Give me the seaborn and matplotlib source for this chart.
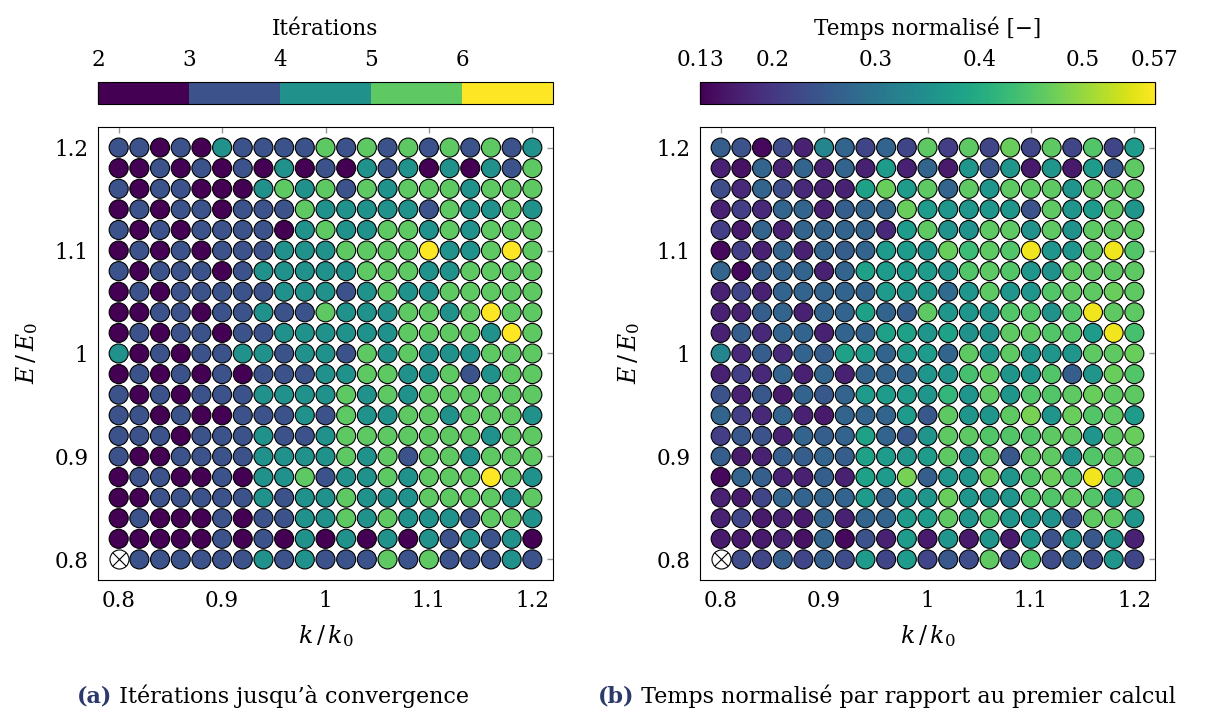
import numpy as np
import pandas as pd
import matplotlib
import matplotlib.pyplot as plt
from matplotlib.colors import ListedColormap, BoundaryNorm, Normalize
from matplotlib.cm import ScalarMappable
import seaborn as sns

# grid axes (k/k0 columns, E/E0 rows listed top to bottom)
k_values = [0.80, 0.82, 0.84, 0.86, 0.88, 0.90, 0.92, 0.94, 0.96, 0.98, 1.00,
            1.02, 1.04, 1.06, 1.08, 1.10, 1.12, 1.14, 1.16, 1.18, 1.20]
e_values = [1.20, 1.18, 1.16, 1.14, 1.12, 1.10, 1.08, 1.06, 1.04, 1.02, 1.00,
            0.98, 0.96, 0.94, 0.92, 0.90, 0.88, 0.86, 0.84, 0.82, 0.80]

# iterations until convergence, one list per E/E0 row
iterations = [
    [3, 3, 2, 3, 2, 4, 3, 3, 3, 3, 5, 3, 5, 3, 5, 3, 5, 3, 5, 3, 4],
    [2, 2, 3, 2, 3, 2, 3, 2, 4, 2, 3, 2, 4, 3, 4, 2, 4, 2, 4, 3, 5],
    [3, 2, 3, 3, 2, 2, 2, 4, 5, 4, 5, 3, 5, 4, 5, 5, 5, 4, 5, 5, 5],
    [2, 3, 2, 3, 3, 2, 3, 3, 3, 5, 4, 4, 4, 4, 4, 3, 5, 4, 4, 5, 4],
    [3, 2, 3, 2, 3, 3, 3, 3, 2, 4, 5, 4, 4, 5, 5, 4, 5, 4, 5, 5, 5],
    [2, 3, 2, 3, 2, 3, 3, 3, 4, 4, 4, 5, 5, 5, 5, 6, 4, 4, 5, 6, 5],
    [3, 2, 3, 3, 3, 2, 3, 4, 4, 4, 4, 4, 5, 5, 5, 4, 4, 5, 5, 5, 5],
    [2, 3, 2, 3, 3, 3, 3, 3, 4, 4, 4, 3, 4, 5, 4, 4, 5, 5, 5, 5, 5],
    [2, 2, 3, 3, 2, 3, 3, 4, 3, 3, 5, 4, 4, 4, 5, 5, 4, 5, 6, 5, 5],
    [2, 3, 2, 3, 3, 2, 3, 3, 4, 4, 4, 4, 4, 4, 5, 5, 5, 5, 4, 6, 5],
    [4, 2, 3, 2, 3, 3, 4, 4, 3, 4, 4, 3, 5, 4, 5, 4, 4, 4, 5, 5, 5],
    [2, 3, 2, 3, 2, 3, 2, 3, 3, 3, 4, 4, 5, 5, 4, 4, 5, 3, 4, 5, 5],
    [3, 2, 3, 2, 3, 3, 3, 4, 4, 4, 4, 5, 4, 5, 4, 5, 5, 5, 5, 5, 5],
    [3, 3, 2, 3, 2, 2, 3, 3, 3, 4, 3, 5, 4, 4, 5, 5, 4, 5, 5, 5, 4],
    [3, 3, 3, 2, 3, 3, 3, 4, 3, 3, 4, 5, 5, 5, 5, 5, 5, 5, 4, 5, 5],
    [3, 2, 2, 3, 3, 3, 3, 4, 4, 4, 4, 5, 4, 5, 3, 5, 5, 4, 5, 5, 5],
    [2, 3, 3, 2, 2, 3, 2, 4, 4, 5, 3, 4, 4, 5, 4, 5, 5, 5, 6, 5, 4],
    [2, 2, 3, 3, 3, 3, 3, 4, 3, 4, 4, 5, 4, 4, 4, 5, 5, 5, 5, 4, 5],
    [2, 3, 2, 2, 2, 3, 2, 3, 3, 4, 4, 5, 4, 5, 4, 4, 4, 3, 5, 5, 4],
    [2, 2, 2, 2, 2, 3, 2, 3, 2, 4, 2, 4, 2, 4, 2, 4, 3, 4, 3, 4, 2],
    [None, 3, 3, 3, 3, 3, 3, 4, 3, 4, 3, 3, 3, 5, 3, 5, 3, 3, 3, 4, 3],
]

# time normalised by the first computation, one list per E/E0 row
norm_time = [
    [0.26, 0.24, 0.14, 0.23, 0.17, 0.33, 0.27, 0.22, 0.27, 0.22, 0.46, 0.21, 0.46, 0.22, 0.47, 0.22, 0.46, 0.22, 0.45, 0.22, 0.37],
    [0.17, 0.15, 0.27, 0.17, 0.27, 0.17, 0.27, 0.17, 0.37, 0.17, 0.27, 0.16, 0.36, 0.24, 0.36, 0.16, 0.36, 0.16, 0.37, 0.25, 0.46],
    [0.23, 0.18, 0.27, 0.23, 0.18, 0.17, 0.17, 0.38, 0.47, 0.37, 0.46, 0.27, 0.46, 0.36, 0.46, 0.46, 0.46, 0.36, 0.46, 0.46, 0.46],
    [0.17, 0.21, 0.18, 0.27, 0.27, 0.17, 0.26, 0.27, 0.27, 0.47, 0.37, 0.36, 0.36, 0.36, 0.36, 0.24, 0.46, 0.36, 0.37, 0.46, 0.36],
    [0.21, 0.16, 0.27, 0.17, 0.27, 0.27, 0.27, 0.27, 0.18, 0.37, 0.46, 0.35, 0.35, 0.46, 0.46, 0.35, 0.46, 0.35, 0.46, 0.46, 0.46],
    [0.14, 0.21, 0.17, 0.27, 0.17, 0.27, 0.26, 0.27, 0.37, 0.37, 0.36, 0.47, 0.43, 0.46, 0.45, 0.56, 0.36, 0.36, 0.46, 0.56, 0.45],
    [0.27, 0.14, 0.26, 0.27, 0.27, 0.17, 0.27, 0.38, 0.37, 0.37, 0.37, 0.36, 0.45, 0.46, 0.45, 0.36, 0.35, 0.46, 0.46, 0.46, 0.46],
    [0.17, 0.22, 0.17, 0.27, 0.27, 0.27, 0.27, 0.27, 0.37, 0.36, 0.36, 0.28, 0.36, 0.46, 0.36, 0.36, 0.45, 0.46, 0.46, 0.47, 0.46],
    [0.17, 0.17, 0.26, 0.27, 0.17, 0.27, 0.27, 0.38, 0.27, 0.26, 0.46, 0.36, 0.36, 0.36, 0.45, 0.45, 0.35, 0.45, 0.56, 0.46, 0.46],
    [0.17, 0.26, 0.18, 0.27, 0.27, 0.17, 0.27, 0.27, 0.38, 0.38, 0.36, 0.38, 0.35, 0.35, 0.46, 0.46, 0.45, 0.45, 0.37, 0.56, 0.44],
    [0.33, 0.18, 0.26, 0.18, 0.27, 0.26, 0.38, 0.37, 0.27, 0.37, 0.37, 0.27, 0.46, 0.36, 0.46, 0.36, 0.36, 0.36, 0.46, 0.46, 0.47],
    [0.17, 0.21, 0.18, 0.27, 0.17, 0.27, 0.17, 0.27, 0.27, 0.27, 0.36, 0.36, 0.44, 0.46, 0.36, 0.36, 0.45, 0.26, 0.36, 0.47, 0.45],
    [0.24, 0.17, 0.25, 0.16, 0.27, 0.25, 0.27, 0.37, 0.37, 0.37, 0.36, 0.42, 0.36, 0.46, 0.36, 0.45, 0.45, 0.46, 0.47, 0.46, 0.46],
    [0.27, 0.21, 0.18, 0.27, 0.17, 0.16, 0.27, 0.27, 0.27, 0.37, 0.25, 0.46, 0.36, 0.36, 0.46, 0.48, 0.36, 0.47, 0.45, 0.46, 0.37],
    [0.21, 0.25, 0.24, 0.17, 0.27, 0.26, 0.27, 0.38, 0.27, 0.25, 0.36, 0.46, 0.46, 0.45, 0.45, 0.45, 0.46, 0.46, 0.36, 0.46, 0.47],
    [0.26, 0.16, 0.17, 0.26, 0.26, 0.27, 0.26, 0.38, 0.37, 0.36, 0.37, 0.46, 0.35, 0.46, 0.25, 0.46, 0.46, 0.35, 0.45, 0.46, 0.46],
    [0.14, 0.27, 0.26, 0.17, 0.17, 0.26, 0.17, 0.38, 0.37, 0.48, 0.26, 0.36, 0.36, 0.47, 0.36, 0.45, 0.47, 0.45, 0.56, 0.45, 0.36],
    [0.17, 0.16, 0.22, 0.27, 0.27, 0.27, 0.27, 0.37, 0.27, 0.36, 0.36, 0.47, 0.36, 0.36, 0.36, 0.45, 0.45, 0.46, 0.45, 0.36, 0.46],
    [0.17, 0.22, 0.16, 0.17, 0.16, 0.27, 0.17, 0.27, 0.27, 0.37, 0.37, 0.46, 0.36, 0.45, 0.36, 0.36, 0.35, 0.24, 0.46, 0.46, 0.36],
    [0.16, 0.16, 0.16, 0.17, 0.15, 0.27, 0.14, 0.24, 0.17, 0.37, 0.16, 0.36, 0.16, 0.36, 0.16, 0.36, 0.24, 0.36, 0.25, 0.36, 0.17],
    [None, 0.23, 0.22, 0.26, 0.22, 0.26, 0.23, 0.37, 0.22, 0.37, 0.22, 0.25, 0.23, 0.46, 0.23, 0.45, 0.23, 0.26, 0.23, 0.36, 0.22],
]

iter_levels = [2, 3, 4, 5, 6]
iter_ticks = [2, 3, 4, 5, 6]
time_ticks = [0.13, 0.2, 0.3, 0.4, 0.5, 0.57]
time_ticklabels = ['0.13', '0.2', '0.3', '0.4', '0.5', '0.57']
time_range = (0.13, 0.57)
axis_ticks = [0.8, 0.9, 1.0, 1.1, 1.2]
axis_ticklabels = ['0.8', '0.9', '1', '1.1', '1.2']


def to_long(grid, name):
    rows = []
    for e, row in zip(e_values, grid):
        for k, v in zip(k_values, row):
            rows.append([k, e, np.nan if v is None else v])
    return pd.DataFrame(rows, columns=['k', 'E', name])


sns.set_theme(style="white")
plt.rcParams['font.family'] = ['DejaVu Serif']
plt.rcParams['mathtext.fontset'] = 'dejavuserif'
plt.rcParams['text.color'] = 'black'
plt.rcParams['axes.labelcolor'] = 'black'

W, H = 1212, 713
fig = plt.figure(figsize=(W / 100, H / 100), dpi=100)


def box(x0, y0, x1, y1):
    return [x0 / W, 1 - y1 / H, (x1 - x0) / W, (y1 - y0) / H]


ax1 = fig.add_axes(box(98, 127, 553, 580))
ax2 = fig.add_axes(box(700, 127, 1155, 580))
cax1 = fig.add_axes(box(98, 82, 553, 104))
cax2 = fig.add_axes(box(700, 82, 1155, 104))

vir = matplotlib.colormaps['viridis']
level_colors = [vir(i / 4) for i in range(5)]
iter_palette = dict(zip(iter_levels, level_colors))

FS = 15.5
S = 188
df_iter = to_long(iterations, 'iter')
df_time = to_long(norm_time, 'temps')

for ax, df, col in [(ax1, df_iter, 'iter'), (ax2, df_time, 'temps')]:
    ok = df.dropna()
    missing = df[df[col].isna()]
    if col == 'iter':
        ok = ok.assign(iter=ok['iter'].astype(int))
        sns.scatterplot(data=ok, x='k', y='E', hue='iter', palette=iter_palette,
                        s=S, edgecolor='black', linewidth=0.8, legend=False, ax=ax, zorder=3)
    else:
        sns.scatterplot(data=ok, x='k', y='E', hue='temps', palette='viridis',
                        hue_norm=time_range, s=S, edgecolor='black', linewidth=0.8,
                        legend=False, ax=ax, zorder=3)
    sns.scatterplot(data=missing, x='k', y='E', color='white', s=S, edgecolor='black',
                    linewidth=0.8, legend=False, ax=ax, zorder=3)
    sns.scatterplot(data=missing, x='k', y='E', color='black', marker='x', s=95,
                    linewidth=0.8, legend=False, ax=ax, zorder=4)

    ax.set_xlim(0.78, 1.22)
    ax.set_ylim(0.78, 1.22)
    ax.set_xticks(axis_ticks, axis_ticklabels)
    ax.set_yticks(axis_ticks, axis_ticklabels)
    ax.tick_params(direction='in', top=True, right=True, length=4, width=1,
                   color='#999999', labelsize=FS, pad=7, labelcolor='black')
    for sp in ax.spines.values():
        sp.set_color('black')
        sp.set_linewidth(0.8)
    ax.set_xlabel(r'$k\,/\,k_0$', fontsize=FS + 1.5, labelpad=8, color='black')
    ax.set_ylabel(r'$E\,/\,E_0$', fontsize=FS + 1.5, labelpad=10, color='black')

# colour bars
cmap_iter = ListedColormap(level_colors)
norm_iter = BoundaryNorm([2, 3, 4, 5, 6, 7], 5)
cb1 = fig.colorbar(ScalarMappable(norm=norm_iter, cmap=cmap_iter), cax=cax1,
                   orientation='horizontal', ticks=iter_ticks)
cb2 = fig.colorbar(ScalarMappable(norm=Normalize(*time_range), cmap='viridis'), cax=cax2,
                   orientation='horizontal', ticks=time_ticks)
cb2.ax.set_xticklabels(time_ticklabels)
cb1.set_label('Itérations', fontsize=FS, labelpad=10, color='black')
cb2.set_label('Temps normalisé [\u2212]', fontsize=FS, labelpad=10, color='black')
for cb in (cb1, cb2):
    cb.ax.minorticks_off()
    cb.ax.xaxis.set_ticks_position('top')
    cb.ax.xaxis.set_label_position('top')
    cb.ax.tick_params(which='both', direction='in', length=15.8, width=1, color='#888888',
                      labelsize=FS, pad=8, labelcolor='black')
    cb.outline.set_edgecolor('black')
    cb.outline.set_linewidth(0.8)

# captions
cap_y = 1 - 708 / H
for x0, tag, text in [(77, '(a)', ' Itérations jusqu\u2019à convergence'),
                      (598, '(b)', ' Temps normalisé par rapport au premier calcul')]:
    t = fig.text(x0 / W, cap_y, tag, fontsize=FS + 0.5, fontweight='bold',
                 color='#2b3a6b', ha='left', va='bottom')
    ax1.annotate(text, xy=(1, 0), xycoords=t, fontsize=FS + 0.5, ha='left',
                 va='bottom', color='black', annotation_clip=False)

fig.savefig('out.png', dpi=100)
